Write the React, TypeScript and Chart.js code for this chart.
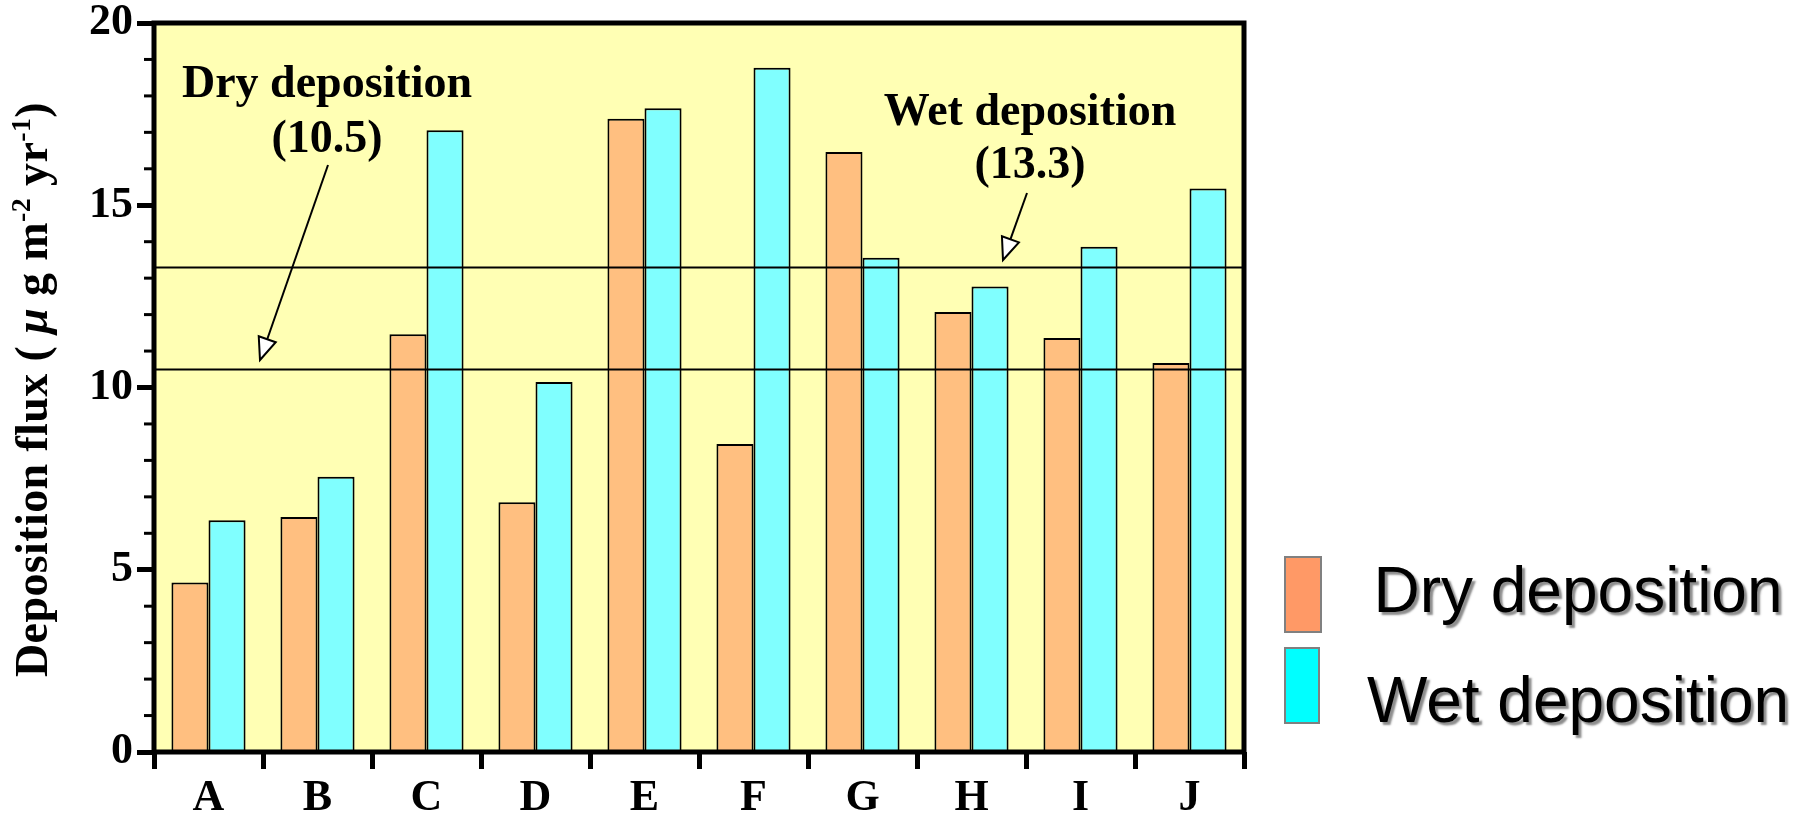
import { useEffect, useRef } from "react";
import { Chart, registerables } from "chart.js";

Chart.register(...registerables);

// ---------------- data ----------------
const categories = ["A", "B", "C", "D", "E", "F", "G", "H", "I", "J"];
const dryValues = [4.65, 6.45, 11.46, 6.85, 17.37, 8.45, 16.46, 12.07, 11.36, 10.67];
const wetValues = [6.36, 7.55, 17.06, 10.15, 17.66, 18.77, 13.56, 12.77, 13.86, 15.46];
const seriesLabels = ["Dry deposition", "Wet deposition"];
const meanValues = [10.5, 13.3]; // dry mean, wet mean
const yMin = 0;
const yMax = 20;
const yMajorStep = 5;
const yMinorStep = 1;

// ---------------- styles ----------------
const SERIF = "'Liberation Serif', 'Times New Roman', serif";
const SANS = "'Liberation Sans', Arial, sans-serif";
const barFill = ["#FFBF80", "#80FFFF"];
const legendFill = ["#FF9966", "#00FFFF"];
const plotBg = "#FFFFB4";

const annotationLayout = [
  { cx: 327, base: [97, 152], from: [328, 165], to: [260, 360] },
  { cx: 1030, base: [125, 178], from: [1027, 193], to: [1003, 260] },
];

function drawArrow(ctx: CanvasRenderingContext2D, x1: number, y1: number, x2: number, y2: number) {
  const ang = Math.atan2(y2 - y1, x2 - x1);
  const hl = 22;
  const hw = 9;
  const bx = x2 - hl * Math.cos(ang);
  const by = y2 - hl * Math.sin(ang);
  ctx.save();
  ctx.strokeStyle = "#000";
  ctx.lineWidth = 2;
  ctx.beginPath();
  ctx.moveTo(x1, y1);
  ctx.lineTo(bx, by);
  ctx.stroke();
  ctx.beginPath();
  ctx.moveTo(x2, y2);
  ctx.lineTo(bx + hw * Math.sin(ang), by - hw * Math.cos(ang));
  ctx.lineTo(bx - hw * Math.sin(ang), by + hw * Math.cos(ang));
  ctx.closePath();
  ctx.fillStyle = "#fff";
  ctx.fill();
  ctx.stroke();
  ctx.restore();
}

const decorPlugin = {
  id: "decor",
  beforeDraw(chart: any) {
    const { ctx, chartArea } = chart;
    const { left, top, right, bottom } = chartArea;
    ctx.save();
    ctx.fillStyle = plotBg;
    ctx.fillRect(left, top, right - left, bottom - top);
    ctx.restore();
  },
  afterDatasetsDraw(chart: any) {
    const { ctx, chartArea } = chart;
    const { left, right } = chartArea;
    const y = chart.scales.y;
    ctx.save();
    ctx.strokeStyle = "#000";
    ctx.lineWidth = 2;
    meanValues.forEach((v) => {
      const py = Math.round(y.getPixelForValue(v)) + 0.5;
      ctx.beginPath();
      ctx.moveTo(left, py);
      ctx.lineTo(right, py);
      ctx.stroke();
    });
    // annotations
    ctx.fillStyle = "#000";
    ctx.font = `bold 46px ${SERIF}`;
    ctx.textAlign = "center";
    ctx.textBaseline = "alphabetic";
    annotationLayout.forEach((a, i) => {
      ctx.fillText(seriesLabels[i], a.cx, a.base[0]);
      ctx.fillText(`(${meanValues[i].toFixed(1)})`, a.cx, a.base[1]);
      drawArrow(ctx, a.from[0], a.from[1], a.to[0], a.to[1]);
    });
    ctx.restore();
  },
  afterDraw(chart: any) {
    const { ctx, chartArea } = chart;
    const { left, top, right, bottom } = chartArea;
    const y = chart.scales.y;
    ctx.save();
    // minor ticks
    ctx.strokeStyle = "#000";
    ctx.lineWidth = 3;
    for (let v = yMin; v <= yMax; v += yMinorStep) {
      if (v % yMajorStep === 0) continue;
      const py = y.getPixelForValue(v);
      ctx.beginPath();
      ctx.moveTo(left - 10, py);
      ctx.lineTo(left, py);
      ctx.stroke();
    }
    // frame
    ctx.lineWidth = 5;
    ctx.beginPath();
    ctx.moveTo(left, bottom);
    ctx.lineTo(left, top);
    ctx.lineTo(right, top);
    ctx.lineTo(right, bottom);
    ctx.lineTo(left, bottom);
    ctx.closePath();
    ctx.stroke();

    // y axis title with superscripts
    const segs = [
      { t: "Deposition flux ( ", f: `bold 46px ${SERIF}`, dy: 0 },
      { t: "\u03bc", f: `italic bold 46px ${SERIF}`, dy: 0 },
      { t: " g m", f: `bold 46px ${SERIF}`, dy: 0 },
      { t: "-2", f: `bold 28px ${SERIF}`, dy: -17 },
      { t: " yr", f: `bold 46px ${SERIF}`, dy: 0 },
      { t: "-1", f: `bold 28px ${SERIF}`, dy: -17 },
      { t: ")", f: `bold 46px ${SERIF}`, dy: 0 },
    ];
    let natural = 0;
    let nChars = 0;
    segs.forEach((s) => {
      ctx.font = s.f;
      natural += ctx.measureText(s.t).width;
      nChars += s.t.length;
    });
    const target = 575;
    const spacing = Math.max(0, (target - natural) / nChars);
    const cy = (top + bottom) / 2 + 2;
    ctx.translate(47, cy);
    ctx.rotate(-Math.PI / 2);
    ctx.fillStyle = "#000";
    ctx.textAlign = "left";
    ctx.textBaseline = "alphabetic";
    let x = -target / 2;
    segs.forEach((s) => {
      ctx.font = s.f;
      for (const ch of s.t) {
        ctx.fillText(ch, x, s.dy);
        x += ctx.measureText(ch).width + spacing;
      }
    });
    ctx.restore();

    // legend
    ctx.save();
    const boxes = [
      { x: 1285, y: 557, w: 36, h: 75, ty: 612 },
      { x: 1285, y: 648, w: 34, h: 75, ty: 722 },
    ];
    chart.data.datasets.forEach((ds: any, i: number) => {
      const b = boxes[i];
      ctx.fillStyle = legendFill[i];
      ctx.fillRect(b.x, b.y, b.w, b.h);
      ctx.strokeStyle = "#808080";
      ctx.lineWidth = 2;
      ctx.strokeRect(b.x, b.y, b.w, b.h);
      ctx.font = `64px ${SANS}`;
      ctx.textAlign = "center";
      ctx.textBaseline = "alphabetic";
      ctx.fillStyle = "#000";
      ctx.shadowColor = "rgba(120,120,120,0.85)";
      ctx.shadowOffsetX = 3;
      ctx.shadowOffsetY = 3;
      ctx.shadowBlur = 2;
      ctx.fillText(ds.label, 1578, b.ty);
      ctx.shadowColor = "transparent";
    });
    ctx.restore();
  },
};

export default function App() {
  const canvasRef = useRef<HTMLCanvasElement | null>(null);

  useEffect(() => {
    const canvas = canvasRef.current;
    if (!canvas) return;
    const chart = new Chart(canvas, {
      type: "bar",
      data: {
        labels: categories,
        datasets: [
          {
            label: seriesLabels[0],
            data: dryValues,
            backgroundColor: barFill[0],
            borderColor: "#000",
            borderWidth: 2,
            categoryPercentage: 0.68,
            barPercentage: 1.0,
          },
          {
            label: seriesLabels[1],
            data: wetValues,
            backgroundColor: barFill[1],
            borderColor: "#000",
            borderWidth: 2,
            categoryPercentage: 0.68,
            barPercentage: 1.0,
          },
        ],
      },
      options: {
        animation: false,
        responsive: false,
        devicePixelRatio: 1,
        layout: { padding: { left: 0, top: 23, right: 566, bottom: 0 } },
        plugins: {
          legend: { display: false },
          tooltip: { enabled: false },
          title: { display: false },
        },
        scales: {
          x: {
            offset: true,
            afterFit(scale: any) {
              scale.height = 64;
              scale.paddingLeft = 0;
              scale.paddingRight = 0;
            },
            grid: {
              offset: true,
              drawOnChartArea: false,
              drawTicks: true,
              tickLength: 17,
              tickWidth: 5,
              tickColor: "#000",
              color: "#000",
            },
            border: { display: false },
            ticks: {
              color: "#000",
              padding: 3,
              font: { family: SERIF, size: 44, weight: "bold" },
              maxRotation: 0,
            },
          },
          y: {
            min: yMin,
            max: yMax,
            afterFit(scale: any) {
              scale.width = 154;
              scale.paddingTop = 0;
              scale.paddingBottom = 0;
            },
            grid: {
              drawOnChartArea: false,
              drawTicks: true,
              tickLength: 17,
              tickWidth: 5,
              tickColor: "#000",
              color: "#000",
            },
            border: { display: false },
            ticks: {
              stepSize: yMajorStep,
              color: "#000",
              padding: 4,
              font: { family: SERIF, size: 44, weight: "bold" },
            },
          },
        },
      },
      plugins: [decorPlugin],
    });
    return () => chart.destroy();
  }, []);

  return (
    <div style={{ position: "absolute", left: 0, top: 0, width: 1810, height: 816, background: "#fff" }}>
      <canvas ref={canvasRef} width={1810} height={816} style={{ display: "block" }} />
    </div>
  );
}
